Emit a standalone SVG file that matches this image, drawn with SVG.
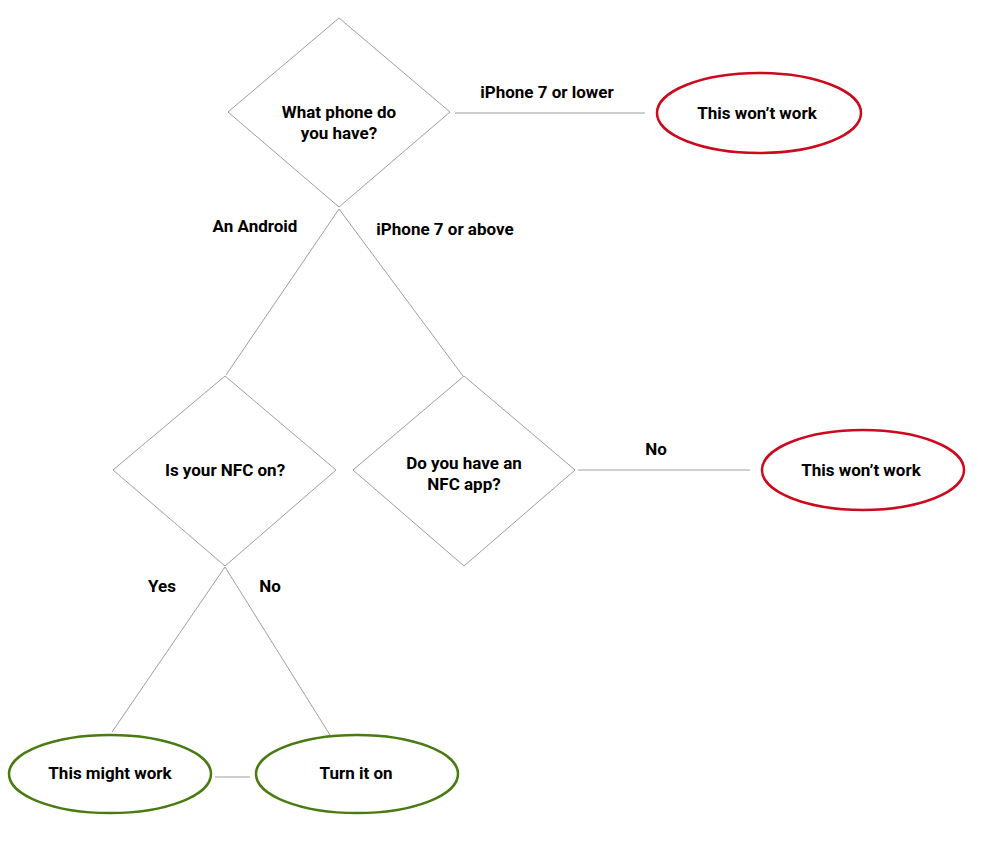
<svg xmlns="http://www.w3.org/2000/svg" width="994" height="848" viewBox="0 0 994 848">
<style>
text{font-family:Roboto,"Liberation Sans",sans-serif;font-weight:bold;font-size:17px;fill:#000;text-anchor:middle}
.d{fill:#fff;stroke:#9e9e9e;stroke-width:1}
.r{fill:#fff;stroke:#cc0a1e;stroke-width:2.5}
.g{fill:#fff;stroke:#4a7a12;stroke-width:2.5}
.c line{stroke:#9e9e9e;stroke-width:1}
</style>
<rect width="994" height="848" fill="#fff"/>
<g class="c">
<line x1="455" y1="113" x2="645" y2="113"/>
<line x1="339" y1="209" x2="226" y2="375"/>
<line x1="339" y1="209" x2="463" y2="376"/>
<line x1="578" y1="470" x2="750" y2="470"/>
<line x1="225" y1="567" x2="112" y2="732"/>
<line x1="225" y1="567" x2="330" y2="735"/>
<line x1="215" y1="777" x2="250" y2="777"/>
<text x="547" y="98">iPhone 7 or lower</text>
<text x="255" y="232">An Android</text>
<text x="445" y="235">iPhone 7 or above</text>
<text x="656" y="455">No</text>
<text x="162" y="592">Yes</text>
<text x="270" y="592">No</text>
</g>
<g id="q1"><polygon class="d" points="228,112 339,18 450,112 339,207"/><text x="339" y="118"><tspan x="339" y="118">What phone do</tspan><tspan x="339" y="139">you have?</tspan></text></g>
<g id="q2"><polygon class="d" points="113,470 225,376 336,470 225,566"/><text x="225" y="476">Is your NFC on?</text></g>
<g id="q3"><polygon class="d" points="353,470 464,376 575,470 464,566"/><text x="464" y="469"><tspan x="464" y="469">Do you have an</tspan><tspan x="464" y="490">NFC app?</tspan></text></g>
<g id="e1"><ellipse class="r" cx="759" cy="113" rx="102" ry="40"/><text x="757" y="119">This won’t work</text></g>
<g id="e2"><ellipse class="r" cx="863" cy="470" rx="101" ry="40"/><text x="861" y="476">This won’t work</text></g>
<g id="e3"><ellipse class="g" cx="110" cy="774" rx="101" ry="39"/><text x="110" y="779">This might work</text></g>
<g id="e4"><ellipse class="g" cx="357" cy="774" rx="101" ry="39"/><text x="356" y="779">Turn it on</text></g>
</svg>
